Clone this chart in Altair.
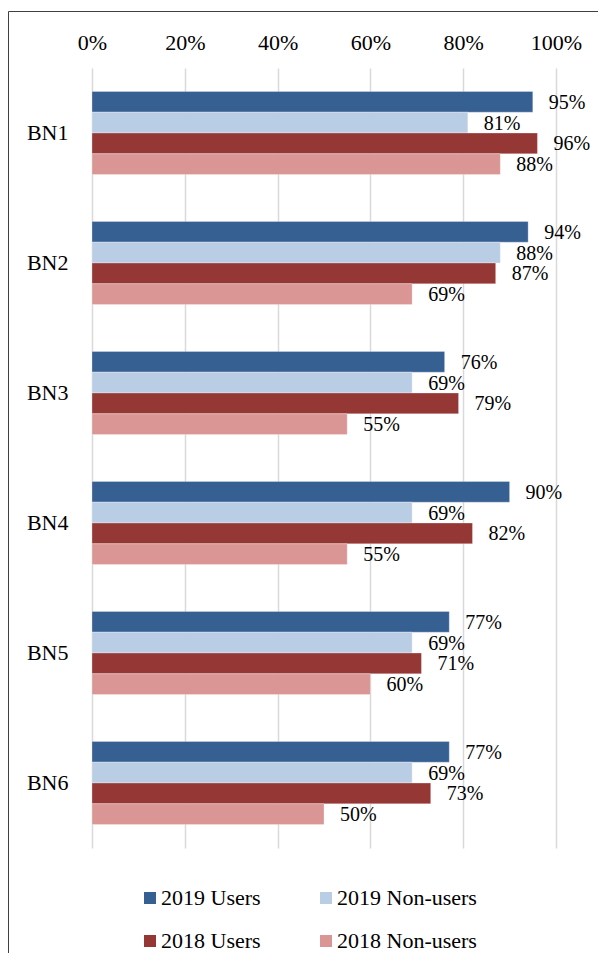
import altair as alt
import pandas as pd

categories = ["BN1", "BN2", "BN3", "BN4", "BN5", "BN6"]
series = ["2019 Users", "2019 Non-users", "2018 Users", "2018 Non-users"]
users_2019 = [95, 94, 76, 90, 77, 77]
nonusers_2019 = [81, 88, 69, 69, 69, 69]
users_2018 = [96, 87, 79, 82, 71, 73]
nonusers_2018 = [88, 69, 55, 55, 60, 50]
colors = ["#376092", "#B9CDE5", "#953735", "#D99694"]
tick_values = [0, 20, 40, 60, 80, 100]

# legend is laid out column by column, so order it for a 2x2 grid
legend_order = [series[0], series[2], series[1], series[3]]
legend_colors = [colors[0], colors[2], colors[1], colors[3]]

rows = []
for s, vals in zip(series, [users_2019, nonusers_2019, users_2018, nonusers_2018]):
    for c, v in zip(categories, vals):
        rows.append({"cat": c, "series": s, "value": v})
df = pd.DataFrame(rows)

FONT = "Liberation Serif"
W, H = 464, 780
PAD = {"left": 84, "top": 60, "right": 42, "bottom": 105}

y = alt.Y(
    "cat:N", sort=categories,
    scale=alt.Scale(paddingInner=0.36, paddingOuter=0.18),
    axis=alt.Axis(title=None, labelFont=FONT, labelFontSize=22, labelColor="black",
                  labelPadding=24, ticks=False, domain=False, grid=False),
)
yoff = alt.YOffset("series:N", sort=series, scale=alt.Scale(domain=series))
x = alt.X(
    "value:Q", scale=alt.Scale(domain=[0, 100]),
    axis=alt.Axis(orient="top", values=tick_values, labelExpr="datum.value + '%'",
                  title=None, grid=True, gridColor="#d9d9d9", gridWidth=1.5,
                  domain=False, ticks=False, labelFont=FONT, labelFontSize=22,
                  labelColor="black", labelPadding=14, labelFlush=False),
)
color = alt.Color(
    "series:N",
    scale=alt.Scale(domain=legend_order, range=legend_colors),
    legend=alt.Legend(title=None, orient="none", legendX=47, legendY=819, columns=2,
                      symbolType="square", symbolSize=144, symbolStrokeWidth=0,
                      labelFont=FONT, labelFontSize=22, labelColor="black",
                      rowPadding=21, columnPadding=54, labelOffset=0, padding=0,
                      labelLimit=300),
)

bars = alt.Chart(df).mark_bar(stroke="white", strokeWidth=0.6, strokeOpacity=0.5).encode(
    x=x, y=y, yOffset=yoff, color=color
)

text = alt.Chart(df).transform_calculate(
    label="datum.value + '%'"
).mark_text(align="left", baseline="middle", dx=16, dy=1, font=FONT,
            fontSize=20, color="black").encode(
    x=alt.X("value:Q"), y=alt.Y("cat:N", sort=categories),
    yOffset=alt.YOffset("series:N", sort=series), text="label:N"
)

frame_data = alt.Data(values=[{}])
frame_top = alt.Chart(frame_data).mark_rule(color="#404040", strokeWidth=1).encode(
    x=alt.value(-PAD["left"] + 0.5), x2=alt.value(W + PAD["right"]), y=alt.value(-56.5)
)
frame_left = alt.Chart(frame_data).mark_rule(color="#404040", strokeWidth=1).encode(
    x=alt.value(-PAD["left"] + 0.5), y=alt.value(-56.5), y2=alt.value(H + PAD["bottom"])
)

chart = alt.layer(bars, text, frame_top, frame_left).properties(
    width=W, height=H,
    autosize=alt.AutoSizeParams(type="none"),
    padding=PAD,
).configure_view(stroke=None)

chart.save("out.html", embed_options={"renderer": "svg", "actions": False})
